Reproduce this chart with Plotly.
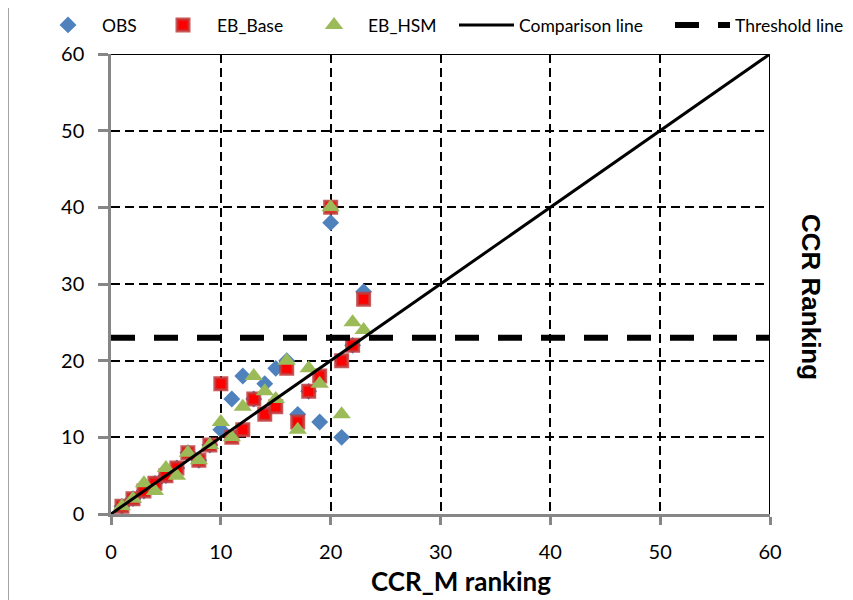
import plotly.graph_objects as go

# ---- data ----
ccr_m = list(range(1, 24))
obs = [1, 2, 3, 4, 5, 6, 8, 7, 9, 11, 15, 18, 15, 17, 19, 20, 13, 16, 12, 38, 10, 22, 29]
eb_base = [1, 2, 3, 4, 5, 6, 8, 7, 9, 17, 10, 11, 15, 13, 14, 19, 12, 16, 18, 40, 20, 22, 28]
eb_hsm = [1, 2, 4, 3, 6, 5, 8, 7, 9, 12, 10, 14, 18, 16, 15, 20, 11, 19, 17, 40, 13, 25, 24]
comparison_x = [0, 60]
comparison_y = [0, 60]
threshold_x = [0, 60]
threshold_y = [23, 23]
tick_vals = [0, 10, 20, 30, 40, 50, 60]

# ---- layout geometry (reference pixels; page body adds an 8px offset) ----
OFF = 8
W, H = 853 - OFF, 600 - OFF
L, R, T, B = 111, 770, 54, 514
PW, PH = R - L, B - T


def px(x):
    return (x - L) / PW


def py(y):
    return (B - y) / PH


fig = go.Figure()
fig.add_trace(go.Scatter(x=ccr_m, y=obs, mode="markers", name="OBS",
                         marker=dict(symbol="diamond", size=13, color="#4F81BD",
                                     line=dict(width=0)),
                         legend="legend"))
fig.add_trace(go.Scatter(x=ccr_m, y=eb_base, mode="markers", name="EB_Base",
                         marker=dict(symbol="square", size=12, color="#FF0000",
                                     line=dict(width=3, color="rgba(192,60,60,0.85)")),
                         legend="legend2"))
fig.add_trace(go.Scatter(x=ccr_m, y=eb_hsm, mode="markers", name="EB_HSM",
                         marker=dict(symbol="triangle-up", size=16, color="#9BBB59",
                                     line=dict(width=0)),
                         legend="legend3"))
fig.add_trace(go.Scatter(x=comparison_x, y=comparison_y, mode="lines", name="Comparison line",
                         line=dict(color="black", width=3),
                         legend="legend4"))
fig.add_trace(go.Scatter(x=threshold_x, y=threshold_y, mode="lines", name="Threshold line",
                         line=dict(color="black", width=6, dash="24px,19px"),
                         legend="legend5"))

axis_common = dict(
    range=[0, 60], tickvals=tick_vals, showline=True, linecolor="#868686", linewidth=2.5,
    ticks="outside", tickcolor="#868686", tickwidth=2.5,
    showgrid=True, gridcolor="black", gridwidth=1.8, griddash="9px,5px",
    zeroline=False, tickfont=dict(family="Lato", size=20, color="black"),
)

leg_font = dict(family="Lato", size=17.5, color="black")
leg_y = py(25)


def legend_at(x_px, iw):
    return dict(x=px(x_px), y=leg_y, xanchor="left", yanchor="middle",
                orientation="h", bgcolor="rgba(0,0,0,0)", borderwidth=0,
                font=leg_font, itemwidth=iw, itemclick=False)


fig.update_layout(
    width=W, height=H,
    showlegend=True,
    margin=dict(l=L - OFF, r=(853 - R), t=T - OFF, b=(600 - B), pad=0, autoexpand=False),
    paper_bgcolor="white", plot_bgcolor="white",
    xaxis=dict(**axis_common, ticklen=8, ticklabelstandoff=10),
    yaxis=dict(**axis_common, ticklen=10, ticklabelstandoff=10),
    legend=legend_at(34, 58),
    legend2=legend_at(149, 58),
    legend3=legend_at(300, 58),
    legend4=legend_at(454, 55),
    legend5=legend_at(670, 55),
    shapes=[
        dict(type="line", xref="x", yref="y", x0=0, x1=60, y0=60, y1=60,
             line=dict(color="black", width=2)),
        dict(type="line", xref="x", yref="y", x0=60, x1=60, y0=0, y1=60,
             line=dict(color="black", width=2)),
        dict(type="rect", xref="paper", yref="paper", x0=px(8), x1=px(870),
             y0=py(620), y1=py(5), line=dict(color="#868686", width=1.5),
             fillcolor="rgba(0,0,0,0)", layer="below"),
    ],
    annotations=[
        dict(text="<b>CCR_M ranking</b>", xref="paper", yref="paper",
             x=px(461), y=py(581), xanchor="center", yanchor="middle",
             showarrow=False, font=dict(family="Lato", size=26, color="black")),
        dict(text="<b>CCR Ranking</b>", xref="paper", yref="paper",
             x=px(811), y=py(297), xanchor="center", yanchor="middle",
             textangle=90, showarrow=False,
             font=dict(family="Liberation Sans", size=26, color="black")),
    ],
)

fig.write_html("out.html")
